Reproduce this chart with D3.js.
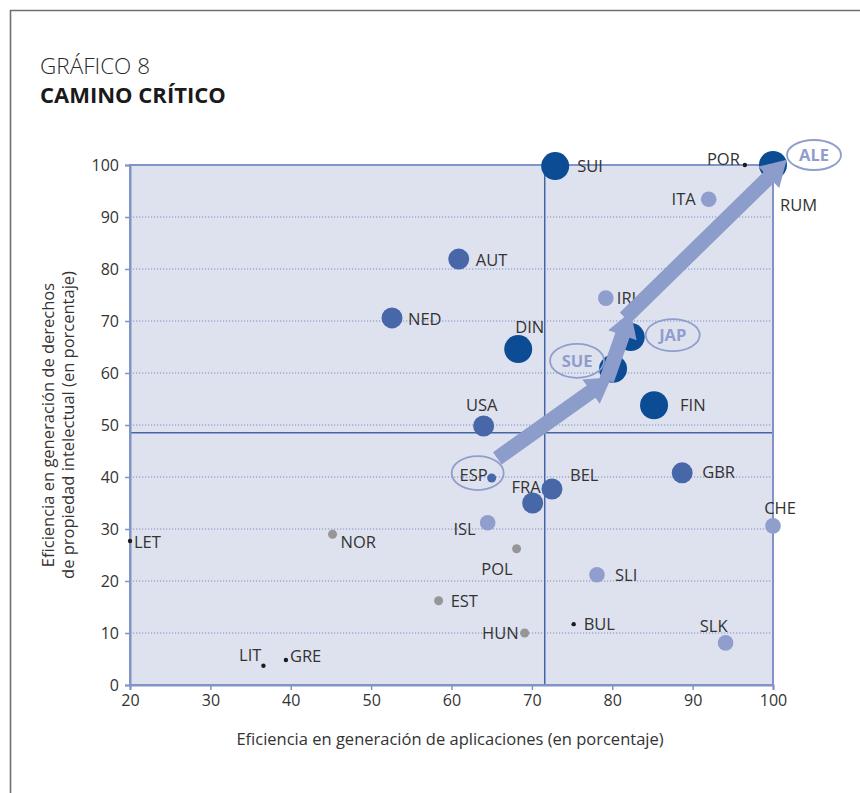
<!DOCTYPE html>
<html lang="es">
<head>
<meta charset="utf-8">
<title>Camino crítico</title>
<script src="https://cdn.jsdelivr.net/npm/d3@7/dist/d3.min.js"></script>
<style>
  html, body { margin: 0; padding: 0; background: #fff; }
  svg { display: block; font-family: "Open Sans", "Noto Sans", sans-serif; }
</style>
</head>
<body>
<svg id="chart" width="860" height="793"></svg>
<script>
// Países (abreviaturas) y sus eficiencias, en porcentaje
const countries = ["SUI","ALE","POR","RUM","ITA","IRL","AUT","NED","DIN","JAP","SUE","FIN","USA","ESP","BEL","FRA","GBR","CHE","ISL","POL","NOR","LET","SLI","EST","HUN","BUL","SLK","LIT","GRE"];
// Eficiencia en generación de aplicaciones
const appEfficiency = [72.9, 100, 96.5, 100, 92.0, 79.2, 60.9, 52.6, 68.3, 82.3, 80.1, 85.2, 64.0, 65.0, 72.5, 70.1, 88.7, 100, 64.5, 68.1, 45.2, 20.0, 78.1, 58.4, 69.1, 75.2, 94.1, 36.6, 39.4];
// Eficiencia en generación de derechos de propiedad intelectual
const ipEfficiency = [99.8, 100, 100, 100, 93.4, 74.4, 81.9, 70.6, 64.6, 66.9, 60.8, 53.8, 49.8, 39.8, 37.7, 35.0, 40.8, 30.6, 31.2, 26.2, 29.0, 27.7, 21.2, 16.2, 10.0, 11.7, 8.1, 3.7, 4.8];
// Grupo de cada país
const groups = ["alto","alto","minimo","minimo","bajo","bajo","medio","medio","alto","alto","alto","alto","medio","medio-pequeño","medio","medio","medio","bajo","bajo","gris","gris","minimo","bajo","gris","gris","minimo","bajo","minimo","minimo"];
// Países resaltados con un óvalo
const highlighted = ["ALE","JAP","SUE","ESP"];
// Tramos del camino crítico, en coordenadas de los ejes [x0, y0, x1, y1]
const pathSegments = [
  [65.7, 43.6, 79.9, 59.2],
  [79.3, 58.6, 82.3, 71.8],
  [81.6, 70.6, 101.7, 101.0]
];
// Líneas de referencia (medianas)
const medianX = 71.6;
const medianY = 48.5;
const xTicks = [20, 30, 40, 50, 60, 70, 80, 90, 100];
const yTicks = [0, 10, 20, 30, 40, 50, 60, 70, 80, 90, 100];

const svg = d3.select("#chart");
const W = 860, H = 793;
const plot = { left: 130, right: 773, top: 165, bottom: 685 };

const x = d3.scaleLinear().domain([20, 100]).range([plot.left, plot.right]);
const y = d3.scaleLinear().domain([0, 100]).range([plot.bottom, plot.top]);

const groupColor = d3.scaleOrdinal()
  .domain(["alto","medio","medio-pequeño","bajo","gris","minimo"])
  .range(["#0b4c95","#4767a9","#4767a9","#8f9ecc","#969696","#1c1c1c"]);
const groupRadius = d3.scaleOrdinal()
  .domain(["alto","medio","medio-pequeño","bajo","gris","minimo"])
  .range([14, 10.5, 4.5, 7.8, 4.5, 2.2]);

const textColor = "#333";
const axisBlue = "#8293c8";
const lightBlue = "#8f9ecc";
const labelSize = 16.5;

// Marco exterior
svg.append("path")
  .attr("d", `M10.5,${H} V10.5 H${W}`)
  .attr("fill", "none").attr("stroke", "#707070").attr("stroke-width", 1.6);

// Títulos
svg.append("text").attr("x", 40).attr("y", 74)
  .attr("font-size", 22.5).attr("font-weight", 300).attr("fill", "#2a2a2a")
  .text("GRÁFICO 8");
svg.append("text").attr("x", 40).attr("y", 103)
  .attr("font-size", 22).attr("font-weight", 700).attr("fill", "#1a1a1a")
  .text("CAMINO CRÍTICO");

// Fondo del área del gráfico
svg.append("rect")
  .attr("x", plot.left).attr("y", plot.top)
  .attr("width", plot.right - plot.left).attr("height", plot.bottom - plot.top)
  .attr("fill", "#dee2ef");

// Rejilla punteada
svg.append("g").selectAll("line")
  .data(yTicks.filter(d => d > 0 && d < 100))
  .join("line")
  .attr("x1", plot.left).attr("x2", plot.right)
  .attr("y1", d => y(d)).attr("y2", d => y(d))
  .attr("stroke", "#7d8fc6").attr("stroke-width", 1)
  .attr("stroke-dasharray", "1.2,1.8");

// Medianas
svg.append("line")
  .attr("x1", x(medianX)).attr("x2", x(medianX))
  .attr("y1", plot.top).attr("y2", plot.bottom)
  .attr("stroke", "#4565a8").attr("stroke-width", 1.5);
svg.append("line")
  .attr("x1", plot.left).attr("x2", plot.right)
  .attr("y1", y(medianY)).attr("y2", y(medianY))
  .attr("stroke", "#4565a8").attr("stroke-width", 1.5);

// Bordes del área
svg.append("rect")
  .attr("x", plot.left).attr("y", plot.top)
  .attr("width", plot.right - plot.left).attr("height", plot.bottom - plot.top)
  .attr("fill", "none").attr("stroke", axisBlue).attr("stroke-width", 2);

// Ejes
const xAxis = svg.append("g")
  .attr("transform", `translate(0,${plot.bottom})`)
  .call(d3.axisBottom(x).tickValues(xTicks).tickSize(5).tickPadding(5));
const yAxis = svg.append("g")
  .attr("transform", `translate(${plot.left},0)`)
  .call(d3.axisLeft(y).tickValues(yTicks).tickSize(5).tickPadding(6));
[xAxis, yAxis].forEach(g => {
  g.select(".domain").attr("stroke", axisBlue).attr("stroke-width", 2);
  g.selectAll(".tick line").attr("stroke", axisBlue).attr("stroke-width", 1.5);
  g.selectAll(".tick text").attr("fill", textColor)
    .attr("font-size", 16).attr("font-family", "'Open Sans', 'Noto Sans', sans-serif");
});

// Títulos de los ejes
svg.append("text")
  .attr("x", 450).attr("y", 745)
  .attr("text-anchor", "middle").attr("font-size", 16.5).attr("fill", textColor)
  .text("Eficiencia en generación de aplicaciones (en porcentaje)");
const yTitle = svg.append("text")
  .attr("transform", `translate(54,${(plot.top + plot.bottom) / 2}) rotate(-90)`)
  .attr("text-anchor", "middle").attr("font-size", 16.5).attr("fill", textColor);
yTitle.append("tspan").attr("x", 0).attr("dy", 0).text("Eficiencia en generación de derechos");
yTitle.append("tspan").attr("x", 0).attr("dy", 20).text("de propiedad intelectual (en porcentaje)");

// Datos combinados
const points = countries.map((c, i) => ({
  name: c, ax: appEfficiency[i], ip: ipEfficiency[i], group: groups[i]
}));

// Puntos (los mayores primero para que los pequeños queden encima)
svg.append("g").selectAll("circle")
  .data(points.slice().sort((a, b) => groupRadius(b.group) - groupRadius(a.group)))
  .join("circle")
  .attr("cx", d => x(d.ax)).attr("cy", d => y(d.ip))
  .attr("r", d => groupRadius(d.group))
  .attr("fill", d => groupColor(d.group));

// Colocación de etiquetas: [dx, dy, anclaje] relativo al punto
const labelPlacement = {
  SUI: [22, 6, "start"], POR: [-5, 0, "end"], RUM: [7, 46, "start"],
  ITA: [-13, 6, "end"], IRL: [11, 6, "start"], AUT: [17, 7, "start"],
  NED: [16, 7, "start"], DIN: [-3, -16, "start"], FIN: [26, 6, "start"],
  USA: [-2, -15, "middle"], ESP: [-4, 3, "end"], BEL: [18, -8, "start"],
  FRA: [8, -10, "end"], GBR: [20, 5, "start"], CHE: [7, -12, "middle"],
  ISL: [-12, 12, "end"], POL: [-4, 26, "end"], NOR: [8, 14, "start"],
  LET: [4, 7, "start"], SLI: [18, 6, "start"], EST: [12, 6, "start"],
  HUN: [-6, 6, "end"], BUL: [10, 6, "start"], SLK: [2, -11, "end"],
  LIT: [-2, -5, "end"], GRE: [4, 2, "start"]
};
svg.append("g").selectAll("text")
  .data(points.filter(d => labelPlacement[d.name]))
  .join("text")
  .attr("x", d => x(d.ax) + labelPlacement[d.name][0])
  .attr("y", d => y(d.ip) + labelPlacement[d.name][1])
  .attr("text-anchor", d => labelPlacement[d.name][2])
  .attr("font-size", labelSize).attr("fill", textColor)
  .text(d => d.name);

// Flechas del camino crítico
function arrowPath(x0, y0, x1, y1) {
  const dx = x1 - x0, dy = y1 - y0, len = Math.hypot(dx, dy);
  const ux = dx / len, uy = dy / len, nx = -uy, ny = ux;
  const sw = 7.5, hw = 15, hl = 25;
  const bx = x1 - ux * hl, by = y1 - uy * hl;
  const pts = [
    [x0 + nx * sw, y0 + ny * sw], [bx + nx * sw, by + ny * sw],
    [bx + nx * hw, by + ny * hw], [x1, y1],
    [bx - nx * hw, by - ny * hw], [bx - nx * sw, by - ny * sw],
    [x0 - nx * sw, y0 - ny * sw]
  ];
  return "M" + pts.map(p => p.join(",")).join("L") + "Z";
}
svg.append("g").selectAll("path")
  .data(pathSegments)
  .join("path")
  .attr("d", s => arrowPath(x(s[0]), y(s[1]), x(s[2]), y(s[3])))
  .attr("fill", "#8c9ccb");

// Óvalos de los países destacados
const ovalPlacement = {
  ALE: [41, -10, 27, 15], JAP: [42, -2, 27, 16], SUE: [-36, -8, 27, 17], ESP: [-14, -5, 26, 17]
};
const ovals = svg.append("g");
points.filter(d => highlighted.includes(d.name)).forEach(d => {
  const [ox, oy, rx, ry] = ovalPlacement[d.name];
  const cx = x(d.ax) + ox, cy = y(d.ip) + oy;
  ovals.append("ellipse")
    .attr("cx", cx).attr("cy", cy).attr("rx", rx).attr("ry", ry)
    .attr("fill", "none").attr("stroke", lightBlue).attr("stroke-width", 1.8);
  if (d.name !== "ESP") {
    ovals.append("text").attr("x", cx).attr("y", cy + 6)
      .attr("text-anchor", "middle").attr("font-size", 16.5).attr("font-weight", 700)
      .attr("fill", lightBlue).text(d.name);
  }
});
</script>
</body>
</html>
